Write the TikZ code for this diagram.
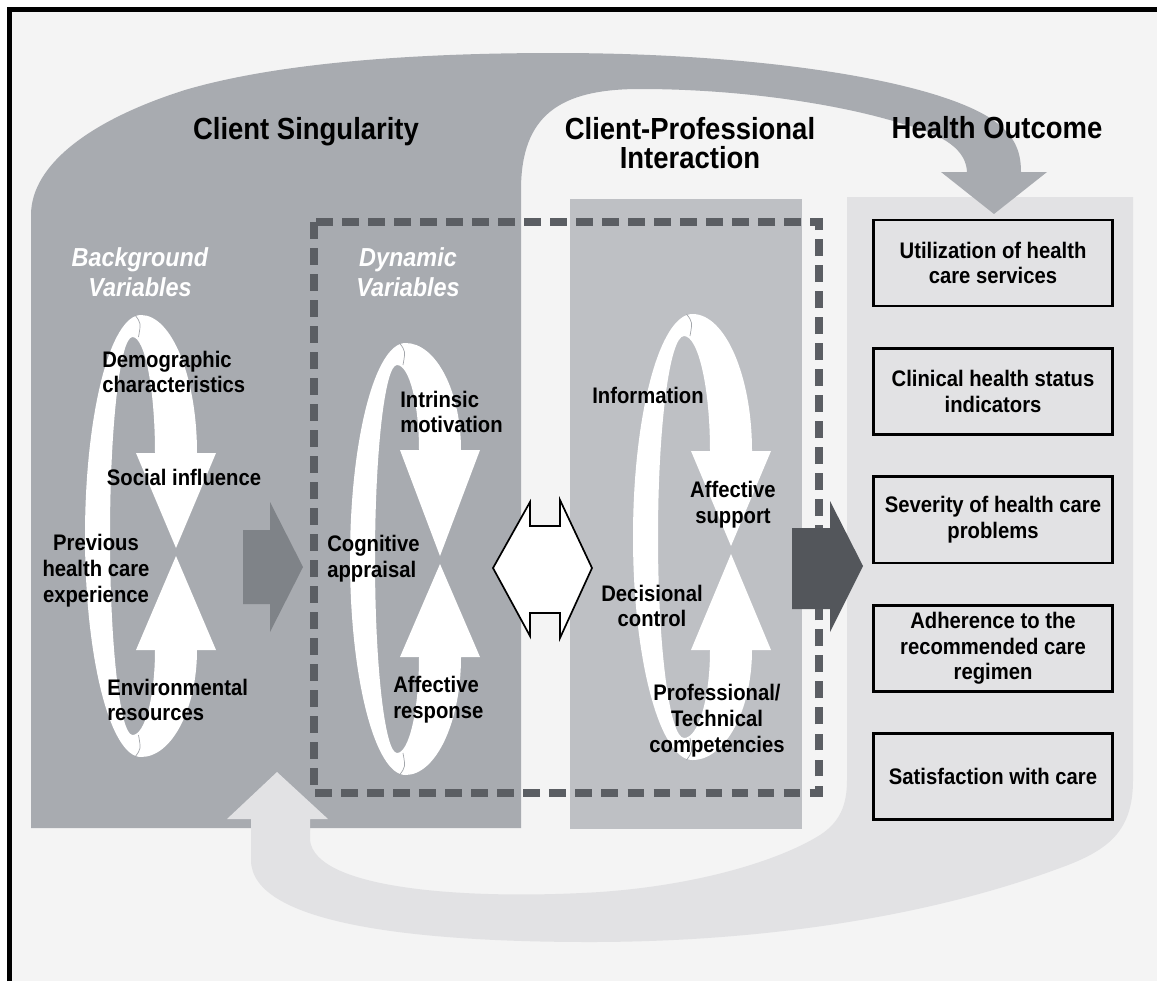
\documentclass[tikz,border=0pt]{standalone}
\usepackage{fontspec}
\setmainfont{Liberation Sans}[FakeStretch=0.9]
\usetikzlibrary{positioning}
\definecolor{pagebg}{HTML}{F4F4F4}
\definecolor{singgray}{HTML}{A8ABB0}
\definecolor{cpgray}{HTML}{BEC0C4}
\definecolor{outgray}{HTML}{E2E2E4}
\definecolor{dashgray}{HTML}{5B5E63}
\definecolor{arrowmid}{HTML}{7F8388}
\definecolor{arrowdark}{HTML}{53565B}
\definecolor{foldgray}{HTML}{A3A6AB}

\newcommand{\lblfont}{\fontsize{16}{18.4}\selectfont\bfseries}
\newcommand{\ttlfont}{\fontsize{21.7}{21}\selectfont\bfseries}
\newcommand{\varsfont}{\fontsize{18.5}{21.3}\selectfont\bfseries\itshape}

% white twisted loop: outer left x, top y, bottom y, arrow axis x,
% base of the down head, base of the up head, y where the tips meet
\newcommand{\ribbonloop}[7]{%
  \pgfmathsetmacro{\rxr}{#4+21}%
  \pgfmathsetmacro{\rxri}{#4-21}%
  \pgfmathsetmacro{\rxli}{#1+25}%
  \pgfmathsetmacro{\rym}{(#2+#3)/2}%
  \pgfmathsetmacro{\rxt}{(#1+\rxr)/2}%
  \pgfmathsetmacro{\rxti}{(\rxli+\rxri)/2}%
  \pgfmathsetmacro{\ryti}{#2+22}%
  \pgfmathsetmacro{\rybi}{#3-22}%
  \fill[white] (\rxr,#5) .. controls (\rxr,{#5-0.55*(#5-#2)}) and ({\rxt+0.55*(\rxr-\rxt)},#2) .. (\rxt,#2)
    .. controls ({\rxt-0.55*(\rxt-#1)},#2) and (#1,{\rym-0.55*(\rym-#2)}) .. (#1,\rym)
    .. controls (#1,{\rym+0.55*(#3-\rym)}) and ({\rxt-0.55*(\rxt-#1)},#3) .. (\rxt,#3)
    .. controls ({\rxt+0.55*(\rxr-\rxt)},#3) and (\rxr,{#6+0.55*(#3-#6)}) .. (\rxr,#6)
    -- (\rxri,#6)
    .. controls (\rxri,{#6+0.55*(\rybi-#6)}) and ({\rxti+0.55*(\rxri-\rxti)},\rybi) .. (\rxti,\rybi)
    .. controls ({\rxti-0.55*(\rxti-\rxli)},\rybi) and (\rxli,{\rym+0.55*(\rybi-\rym)}) .. (\rxli,\rym)
    .. controls (\rxli,{\rym-0.55*(\rym-\ryti)}) and ({\rxti-0.55*(\rxti-\rxli)},\ryti) .. (\rxti,\ryti)
    .. controls ({\rxti+0.55*(\rxri-\rxti)},\ryti) and (\rxri,{#5-0.55*(#5-\ryti)}) .. (\rxri,#5)
    -- cycle;
  % the two heads pointing at each other
  \fill[white] ({#4-40},#5) -- ({#4+40},#5) -- (#4,{#7-4}) -- cycle;
  \fill[white] ({#4-40},#6) -- ({#4+40},#6) -- (#4,{#7+4}) -- cycle;
  % folds where the band turns over
  \draw[foldgray, line width=0.5pt] ({\rxt-6},#2) .. controls (\rxt,{#2+8}) .. ({\rxti+6},\ryti);
  \draw[foldgray, line width=0.5pt] ({\rxt-6},#3) .. controls (\rxt,{#3-8}) .. ({\rxti+6},\rybi);
}

\begin{document}
\begin{tikzpicture}[x=0.025cm, y=-0.025cm,
  ttl/.style={font=\ttlfont, align=center, inner sep=0pt},
  vars/.style={font=\varsfont, text=white, align=center, inner sep=0pt},
  lbl/.style={font=\lblfont, align=center, inner sep=0pt},
  lbll/.style={font=\lblfont, align=left, inner sep=0pt, anchor=west},
  outbox/.style={draw=black, line width=2pt, minimum width=5.98cm, minimum height=2.15cm,
                 align=center, font=\lblfont, inner sep=0pt},
  node distance=0.99cm
]
\useasboundingbox (0,0) rectangle (1157,981);
\fill[white] (0,0) rectangle (1157,981);
\fill[pagebg] (9,9) rectangle (1157,981);

% health outcome panel with the lower return band
\fill[outgray] (847,197) -- (1133,197) -- (1133,780)
  .. controls (1133,830) and (1110,850) .. (1060,868)
  .. controls (920,920) and (750,942) .. (590,942)
  .. controls (420,942) and (251,925) .. (251,860) -- (251,817) -- (310,817) -- (310,840)
  .. controls (315,890) and (470,900) .. (600,892)
  .. controls (700,885) and (780,860) .. (820,835)
  .. controls (840,822) and (847,805) .. (847,780) -- cycle;

% client singularity block and the upper band
\fill[singgray] (31,828) -- (31,215)
  .. controls (31,165) and (90,120) .. (185,90)
  .. controls (280,62) and (420,53) .. (555,53)
  .. controls (760,53) and (930,80) .. (990,118)
  .. controls (1014,134) and (1021,150) .. (1021,172)
  -- (1047,172) -- (994,214) -- (941,172) -- (967,172)
  .. controls (966,150) and (945,135) .. (903,124)
  .. controls (840,104) and (740,89) .. (640,89)
  .. controls (560,89) and (521,115) .. (521,190) -- (521,828) -- cycle;

% head of the lower band
\fill[outgray] (251,830) -- (251,819) -- (227,819) -- (277,772) -- (328,819) -- (310,819) -- (310,830) -- cycle;

% client-professional panel
\fill[cpgray] (570,199) rectangle (802,829);

% dashed frame round the interacting parts
\draw[dashgray, line width=6.2pt, dash pattern=on 12pt off 6.5pt] (314,222) rectangle (819,793);

% the three loops
\ribbonloop{85}{315}{757}{176}{453}{650}{552}
\ribbonloop{350}{343}{775}{440}{450}{657}{560}
\ribbonloop{633}{314}{760}{731}{451}{650}{550}

% block arrows
\fill[arrowmid] (243,530) -- (270,530) -- (270,502) -- (303,567) -- (270,632) -- (270,604) -- (243,604) -- cycle;
\filldraw[fill=white, draw=black, line width=1.2pt] (493,568) -- (530,502) -- (530,526) -- (560,526)
  -- (560,500) -- (592,568) -- (560,638) -- (560,613) -- (530,613) -- (530,636) -- cycle;
\fill[arrowdark] (792,528) -- (830,528) -- (830,501) -- (863,566) -- (830,632) -- (830,609) -- (792,609) -- cycle;

% headings
\node[ttl] (singtitle) at (306,132) {Client Singularity};
\node[ttl] (cptitle) at (690,143) {Client-Professional\\Interaction};
\node[ttl] (outtitle) at (997,128) {Health Outcome};
\node[vars] (bgvars) at (140,272) {Background\\Variables};
\node[vars] (dynvars) at (408,272) {Dynamic\\Variables};

% background variables
\node[lbll] (demo) at (102,372) {Demographic\\characteristics};
\node[lbl] (social) at (184,477) {Social influence};
\node[lbl] (prev) at (96,571) {Previous\\health care\\experience};
\node[lbll] (env) at (107,700) {Environmental\\resources};

% dynamic variables
\node[lbll] (intrinsic) at (400,412) {Intrinsic\\motivation};
\node[lbll] (cognitive) at (327,559) {Cognitive\\appraisal};
\node[lbll] (affresp) at (393,700) {Affective\\response};

% interaction
\node[lbl] (info) at (648,395) {Information};
\node[lbl] (affsup) at (733,505) {Affective\\support};
\node[lbl] (decision) at (652,606) {Decisional\\control};
\node[lbl] (compet) at (717,721) {Professional/\\Technical\\competencies};

% outcomes
\node[outbox] (util) at (993,263) {Utilization of health\\care services};
\node[outbox, below=of util] (clin) {Clinical health status\\indicators};
\node[outbox, below=of clin] (sev) {Severity of health care\\problems};
\node[outbox, below=of sev] (adh) {Adherence to the\\recommended care\\regimen};
\node[outbox, below=of adh] (sat) {Satisfaction with care};

% page frame
\draw[line width=3.2pt] (9.5,981) -- (9.5,9.5) -- (1157,9.5);
\end{tikzpicture}
\end{document}
